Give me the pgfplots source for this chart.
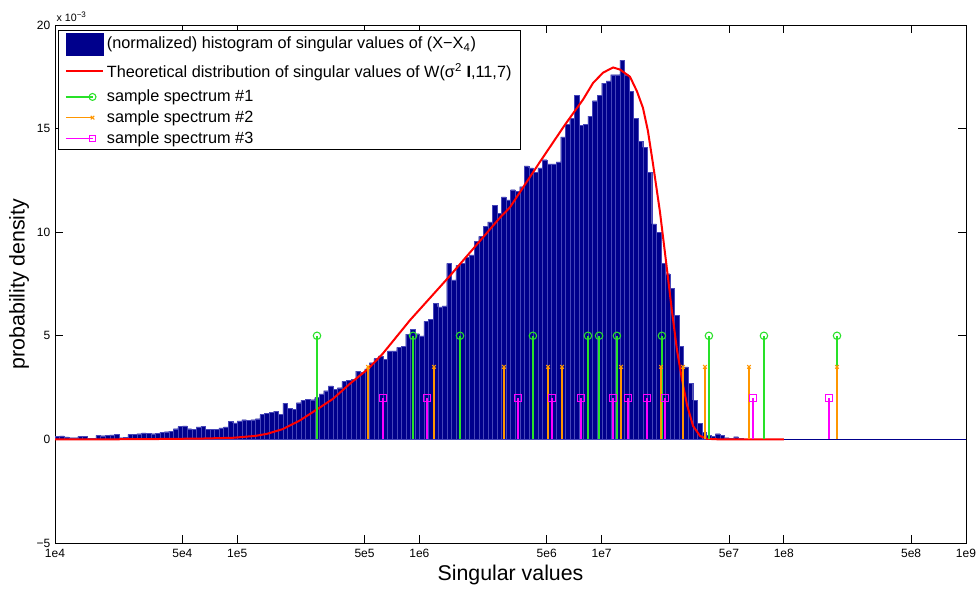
\documentclass[border=0pt]{standalone}
\usepackage{fontspec}
\setmainfont{Liberation Sans}
\usepackage{pgfplots}
\pgfplotsset{compat=1.18}
\definecolor{histblue}{RGB}{0,0,140}
\definecolor{histedge}{RGB}{70,70,185}
\definecolor{sgreen}{RGB}{40,225,40}
\definecolor{sorange}{RGB}{255,150,0}
\definecolor{smagenta}{RGB}{255,0,255}
\begin{document}
\begin{tikzpicture}
\begin{axis}[
  at={(0,0)}, anchor=south west,
  scale only axis, width=683.25pt, height=388.5pt,
  xmin=4, xmax=9, ymin=-5, ymax=20,
  xtick={4,4.69897,5,5.69897,6,6.69897,7,7.69897,8,8.69897,9},
  xticklabels={1e4,5e4,1e5,5e5,1e6,5e6,1e7,5e7,1e8,5e8,1e9},
  ytick={-5,0,5,10,15,20},
  yticklabels={−5,0,5,10,15,20},
  tick align=inside, xtick pos=both, ytick pos=both,
  xticklabel pos=bottom, yticklabel pos=left,
  major tick length=6pt,
  tick style={black, line width=0.5pt},
  axis line style={black, line width=0.7pt},
  ticklabel style={font=\fontsize{9}{10}\selectfont},
  xticklabel style={yshift=-1pt},
  every axis x label/.style={at={(axis description cs:0.5,0)}, yshift=-24pt, anchor=center},
  every axis y label/.style={at={(axis description cs:0,0.5)}, xshift=-27pt, rotate=90, anchor=center},
  xlabel={Singular values}, ylabel={probability density},
  label style={font=\fontsize{16}{18}\selectfont},
  legend style={at={(0.003,0.99)}, anchor=north west, draw=black, line width=0.7pt,
    fill=white, font=\fontsize{12.2}{14}\selectfont, row sep=1.2pt,
    inner xsep=5pt, inner ysep=1.5pt},
  legend cell align=left,
]
\addplot[ybar interval, fill=histblue, draw=histedge, line width=0.15pt,
  legend image code/.code={\fill[histblue] (0pt,-8.5pt) rectangle (28pt,8.5pt);}]
coordinates {
(4.000,0.15)(4.025,0.17)(4.050,0.12)(4.075,0.08)(4.100,0.08)(4.125,0.16)(4.150,0.14)(4.175,0.05)(4.200,0.05)(4.225,0.20)
(4.250,0.18)(4.275,0.20)(4.300,0.22)(4.325,0.25)(4.350,0.08)(4.375,0.10)(4.400,0.24)(4.425,0.24)(4.450,0.28)(4.475,0.32)
(4.500,0.30)(4.525,0.28)(4.550,0.29)(4.575,0.35)(4.600,0.37)(4.625,0.40)(4.650,0.52)(4.675,0.62)(4.700,0.65)(4.725,0.52)
(4.750,0.50)(4.775,0.60)(4.800,0.62)(4.825,0.50)(4.850,0.48)(4.875,0.50)(4.900,0.56)(4.925,0.60)(4.950,0.88)(4.975,0.80)
(5.000,0.90)(5.025,0.95)(5.050,0.92)(5.075,0.95)(5.100,1.00)(5.125,1.20)(5.150,1.25)(5.175,1.30)(5.200,1.37)(5.225,1.20)
(5.250,1.75)(5.275,1.50)(5.300,1.45)(5.325,1.77)(5.350,1.88)(5.375,1.94)(5.400,1.92)(5.425,2.02)(5.450,2.20)(5.475,2.35)
(5.500,2.58)(5.525,2.42)(5.550,2.50)(5.575,2.80)(5.600,2.85)(5.625,2.90)(5.650,3.30)(5.675,3.23)(5.700,3.40)(5.725,3.70)
(5.750,3.90)(5.775,4.03)(5.800,3.87)(5.825,4.27)(5.850,4.27)(5.875,4.44)(5.900,4.50)(5.925,5.08)(5.950,5.30)(5.975,5.10)
(6.000,5.00)(6.025,5.70)(6.050,5.80)(6.075,6.58)(6.100,6.40)(6.125,6.45)(6.150,8.50)(6.175,7.70)(6.200,8.40)(6.225,8.50)
(6.250,8.80)(6.275,8.90)(6.300,9.57)(6.325,9.80)(6.350,10.28)(6.375,10.50)(6.400,11.30)(6.425,10.90)(6.450,11.70)(6.475,11.56)
(6.500,12.05)(6.525,11.98)(6.550,12.20)(6.575,13.20)(6.600,13.10)(6.625,12.90)(6.650,13.10)(6.675,13.50)(6.700,13.30)(6.725,13.30)
(6.750,13.40)(6.775,14.60)(6.800,15.20)(6.825,15.50)(6.850,16.60)(6.875,15.15)(6.900,15.20)(6.925,15.60)(6.950,16.35)(6.975,16.60)
(7.000,17.20)(7.025,17.30)(7.050,17.60)(7.075,17.60)(7.100,18.30)(7.125,17.60)(7.150,16.80)(7.175,15.50)(7.200,14.40)(7.225,14.10)
(7.250,12.90)(7.275,10.40)(7.300,10.00)(7.325,8.50)(7.350,8.00)(7.375,7.30)(7.400,6.00)(7.425,4.50)(7.450,3.50)(7.475,2.70)
(7.500,1.90)(7.525,0.77)(7.550,0.35)(7.575,0.20)(7.600,0.15)(7.625,0.28)(7.650,0.20)(7.675,0.08)(7.700,0.06)(7.725,0.13)
(7.750,0.05)(7.775,0.05)
};
\addlegendentry{(normalized) histogram of singular values of (X−X\textsubscript{4})}
\addplot[histblue, line width=0.8pt, forget plot] coordinates {(7.775,0) (9,0)};
\addplot[red, line width=1.5pt,
  legend image code/.code={\path (0pt,-10pt) (0pt,10pt); \draw[red, line width=1.5pt] (0pt,0pt) -- (28pt,0pt);}]
coordinates {
(4.000,0.00)(4.300,0.005)(4.520,0.015)(4.800,0.04)(4.980,0.08)(5.100,0.17)(5.164,0.27)(5.251,0.50)(5.345,0.92)(5.438,1.45)
(5.526,1.96)(5.619,2.69)(5.718,3.40)(5.800,4.15)(5.948,5.75)(6.168,7.90)(6.442,10.70)(6.497,11.20)(6.662,13.40)(6.800,15.20)(6.898,16.40)
(6.953,17.20)(7.008,17.70)(7.063,17.95)(7.101,17.85)(7.156,17.50)(7.194,16.80)(7.227,16.00)(7.254,14.90)(7.282,13.30)(7.320,11.00)
(7.359,8.20)(7.386,6.20)(7.414,4.30)(7.441,2.90)(7.469,1.65)(7.502,0.65)(7.540,0.17)(7.578,0.03)(7.650,0.00)(8.000,0.00)
};
\addlegendentry{Theoretical distribution of singular values of W(σ\textsuperscript{2} \textbf{I},11,7)}
\addplot[ycomb, color=sgreen, line width=1pt, mark=o, mark size=2.8pt, mark options={solid, sgreen, line width=0.8pt},
  legend image code/.code={\draw[sgreen, line width=1pt] (0pt,0pt) -- (20pt,0pt);
    \path[sgreen, line width=0.8pt] plot[only marks, mark=o, mark size=2.6pt] coordinates {(20pt,0pt)};}]
coordinates {(5.438,5)(5.965,5)(6.223,5)(6.623,5)(6.925,5)(6.986,5)(7.084,5)(7.331,5)(7.589,5)(7.891,5)(8.292,5)};
\addlegendentry{sample spectrum \#1}
\addplot[ycomb, color=sorange, line width=1pt, mark=x, mark size=1.9pt, mark options={solid, sorange, line width=0.8pt},
  legend image code/.code={\draw[sorange, line width=1pt] (0pt,0pt) -- (20pt,0pt);
    \path[sorange, line width=0.8pt] plot[only marks, mark=x, mark size=1.9pt] coordinates {(20pt,0pt)};}]
coordinates {(5.718,3.5)(6.080,3.5)(6.464,3.5)(6.706,3.5)(6.783,3.5)(7.107,3.5)(7.326,3.5)(7.447,3.5)(7.567,3.5)(7.809,3.5)(8.292,3.5)};
\addlegendentry{sample spectrum \#2}
\addplot[ycomb, color=smagenta, line width=1pt, mark=square, mark size=2.6pt, mark options={solid, smagenta, line width=0.8pt},
  legend image code/.code={\draw[smagenta, line width=1pt] (0pt,0pt) -- (20pt,0pt);
    \path[smagenta, line width=0.8pt] plot[only marks, mark=square, mark size=2.4pt] coordinates {(20pt,0pt)};}]
coordinates {(5.800,2)(6.042,2)(6.541,2)(6.728,2)(6.887,2)(7.063,2)(7.145,2)(7.249,2)(7.348,2)(7.831,2)(8.248,2)};
\addlegendentry{sample spectrum \#3}
\end{axis}
\node[anchor=south west, font=\fontsize{8}{9}\selectfont, inner sep=1pt] at (0pt,390pt) {x 10\textsuperscript{−3}};
\pgfresetboundingbox
\path[use as bounding box] (-41.25pt,-35.25pt) rectangle (693.75pt,407.25pt);
\end{tikzpicture}
\end{document}
